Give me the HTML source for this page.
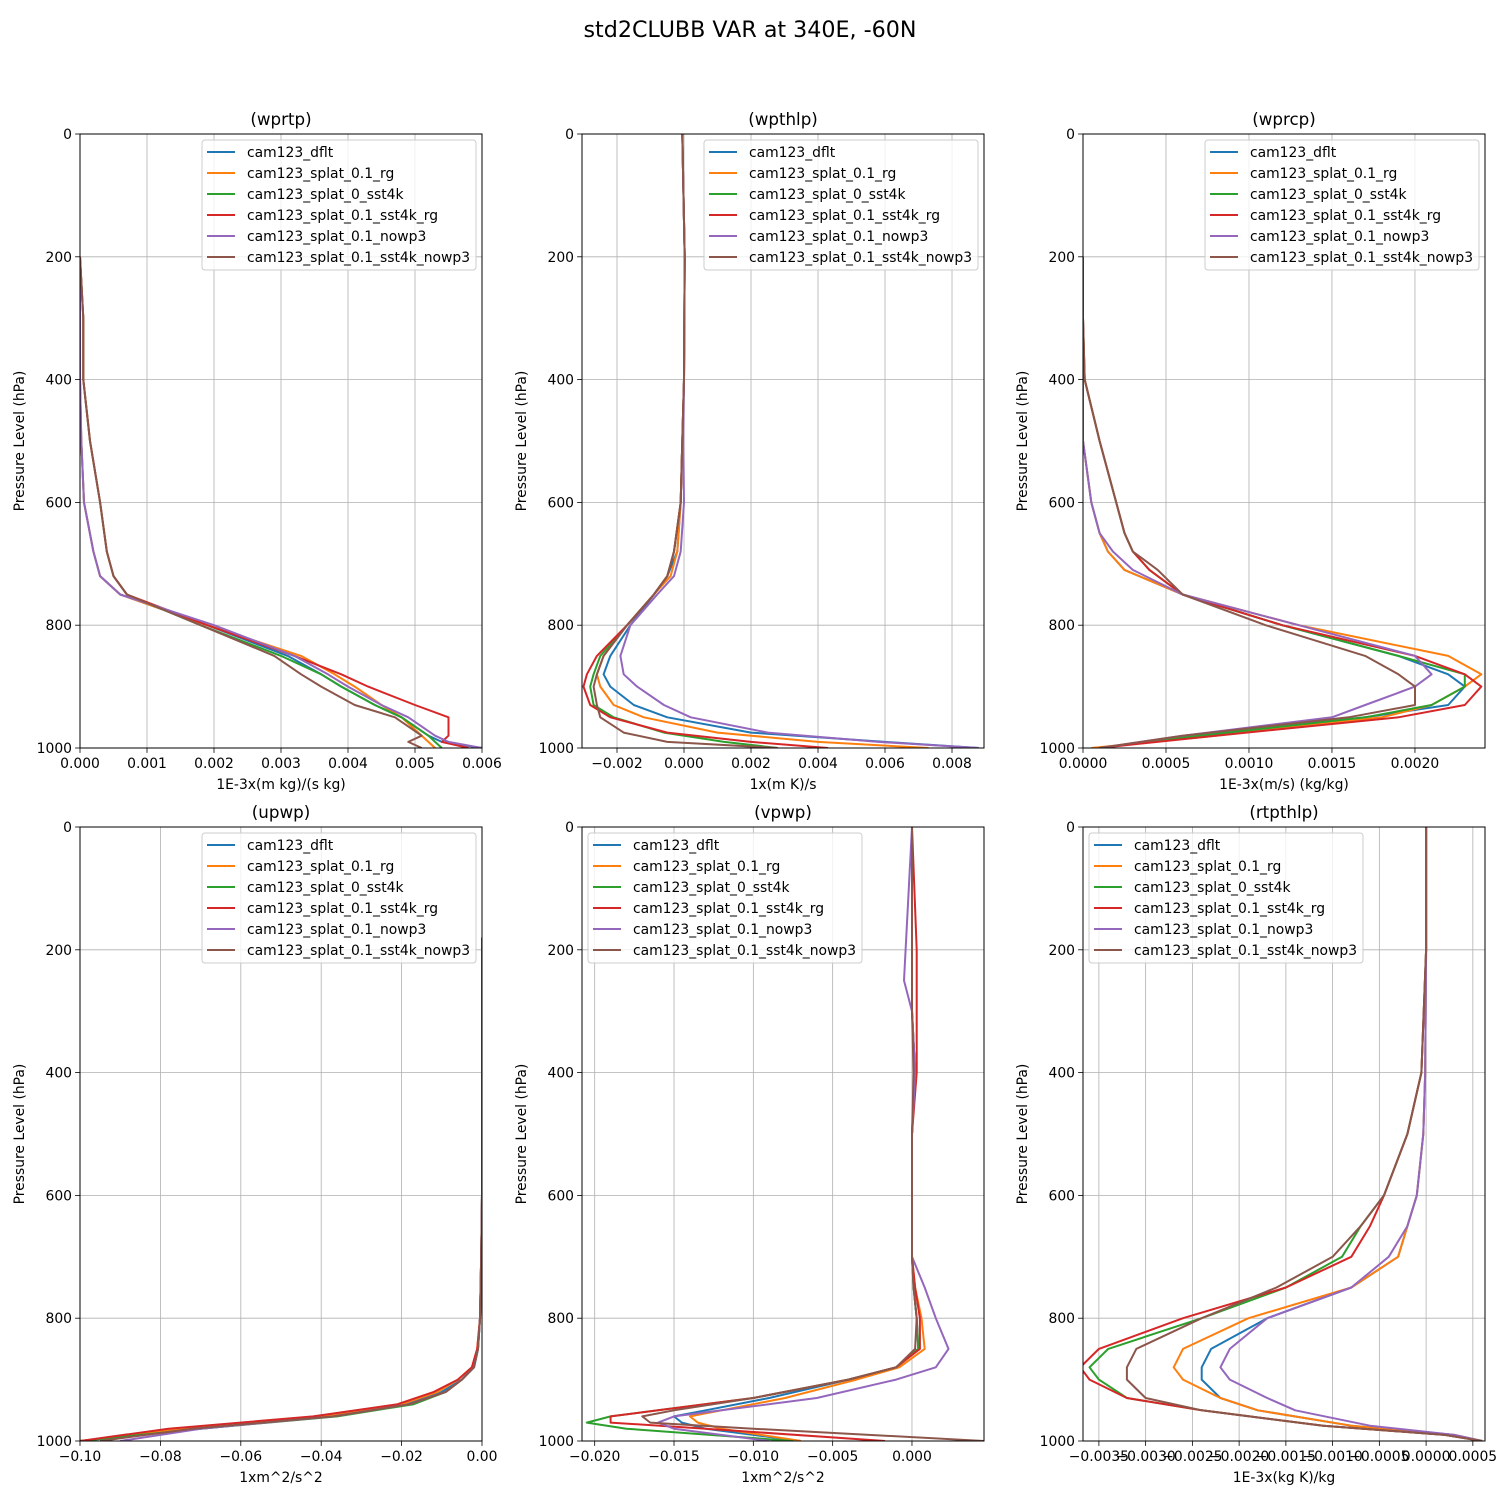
<!DOCTYPE html>
<html><head><meta charset="utf-8"><style>
html,body{margin:0;padding:0;background:#fff;}
svg{display:block;font-family:"DejaVu Sans","Liberation Sans",sans-serif;}
</style></head><body>
<svg id="fig" width="1500" height="1500" viewBox="0 0 1500 1500" xmlns="http://www.w3.org/2000/svg">
<rect width="1500" height="1500" fill="#fff"/>
<text x="750" y="37" font-size="22.2" text-anchor="middle">std2CLUBB VAR at 340E, -60N</text>
</svg>
<script>
const seriesNames = ["cam123_dflt","cam123_splat_0.1_rg","cam123_splat_0_sst4k","cam123_splat_0.1_sst4k_rg","cam123_splat_0.1_nowp3","cam123_splat_0.1_sst4k_nowp3"];
const colors = ["#1f77b4","#ff7f0e","#2ca02c","#d62728","#9467bd","#8c564b"];
const pTicks = [0,200,400,600,800,1000];

// Panel 1: wprtp
const lev1 = [200,300,400,500,600,680,720,750,800,850,880,900,930,950,980,990,1000];
const wprtp = [
 [0,0,0,0.00002,0.00006,0.0002,0.0003,0.0006,0.0019,0.0031,0.0036,0.0039,0.0044,0.0048,0.0052,0.0054,0.006],
 [0,0,0,0.00002,0.00006,0.0002,0.0003,0.0006,0.0019,0.0033,0.0038,0.0041,0.0045,0.0048,0.0051,0.0052,0.0053],
 [0,0.00005,0.00005,0.00015,0.0003,0.0004,0.0005,0.0007,0.0018,0.003,0.0036,0.0039,0.0044,0.0048,0.0052,0.0053,0.0054],
 [0,0.00005,0.00005,0.00015,0.0003,0.0004,0.0005,0.0007,0.0019,0.0032,0.0039,0.0043,0.005,0.0055,0.0055,0.0054,0.0058],
 [0,0,0,0.00002,0.00006,0.0002,0.0003,0.0006,0.002,0.0032,0.0037,0.004,0.0045,0.0049,0.0053,0.0055,0.006],
 [0,0.00005,0.00005,0.00015,0.0003,0.0004,0.0005,0.0007,0.0018,0.0029,0.0033,0.0036,0.0041,0.0047,0.0051,0.0049,0.0051]];
// Panel 2: wpthlp
const lev2 = [0,200,400,500,600,680,720,750,800,850,880,900,930,950,975,990,1000];
const wpthlp = [
 [-0.00005,0.00002,0,-0.00005,-0.0001,-0.0002,-0.0005,-0.0009,-0.0016,-0.0022,-0.0024,-0.0022,-0.0015,-0.0005,0.002,0.006,0.0088],
 [-0.00005,0.00002,0,-0.00005,-0.0001,-0.0002,-0.0004,-0.0009,-0.0017,-0.0024,-0.0026,-0.0025,-0.0021,-0.0012,0.001,0.004,0.0073],
 [-0.00005,0.00002,0,-0.00005,-0.0001,-0.0003,-0.0005,-0.0009,-0.0017,-0.0025,-0.0027,-0.0028,-0.0027,-0.0021,-0.0006,0.0012,0.0028],
 [-0.00005,0.00002,0,-0.00005,-0.0001,-0.0003,-0.0005,-0.0009,-0.0017,-0.0026,-0.0029,-0.003,-0.0028,-0.0022,-0.0005,0.002,0.0043],
 [-0.00005,0.00002,0,-0.00002,0,-0.0001,-0.0003,-0.0008,-0.0016,-0.0019,-0.0018,-0.0014,-0.0006,0.0002,0.0025,0.0058,0.0088],
 [-0.00005,0.00002,0,-0.00005,-0.0001,-0.0003,-0.0005,-0.0009,-0.0017,-0.0024,-0.0026,-0.0027,-0.0026,-0.0025,-0.0018,-0.0005,0.0028]];
// Panel 3: wprcp
const lev3 = [200,300,400,500,600,650,680,710,750,800,850,880,900,930,950,980,1000];
const wprcp = [
 [0,0,0,0,0.00005,0.0001,0.00015,0.00025,0.0006,0.0012,0.0019,0.0022,0.0023,0.0022,0.0017,0.0007,0.0001],
 [0,0,0,0,0.00005,0.0001,0.00015,0.00025,0.0006,0.0013,0.0022,0.0024,0.0023,0.0021,0.0018,0.0008,0.00005],
 [0,0,0.00001,0.0001,0.0002,0.00025,0.0003,0.0004,0.0006,0.0012,0.0019,0.0023,0.0023,0.0021,0.0017,0.0007,0.0001],
 [0,0,0.00001,0.0001,0.0002,0.00025,0.0003,0.0004,0.0006,0.0012,0.002,0.0023,0.0024,0.0023,0.0019,0.0008,0.0001],
 [0,0,0,0,0.00005,0.0001,0.00018,0.0003,0.0006,0.0013,0.002,0.0021,0.002,0.0017,0.0015,0.0006,0.0001],
 [0,0,0.00001,0.0001,0.0002,0.00025,0.0003,0.00045,0.0006,0.0011,0.0017,0.0019,0.002,0.002,0.0016,0.0006,0.0001]];
// Panel 4: upwp
const lev4 = [180,400,600,700,800,850,880,900,920,940,960,980,1000];
const upwp = [
 [0,0,0,-0.0002,-0.0005,-0.001,-0.002,-0.005,-0.01,-0.019,-0.038,-0.07,-0.1],
 [0,0,0,-0.0002,-0.0005,-0.0012,-0.0025,-0.006,-0.011,-0.02,-0.04,-0.075,-0.1],
 [0,0,0,-0.0002,-0.0005,-0.001,-0.002,-0.005,-0.009,-0.017,-0.036,-0.07,-0.1],
 [0,0,0,-0.0002,-0.0005,-0.0012,-0.0025,-0.006,-0.012,-0.021,-0.042,-0.078,-0.1],
 [0,0,0,-0.0002,-0.0005,-0.001,-0.002,-0.005,-0.009,-0.018,-0.037,-0.07,-0.09],
 [0,0,0,-0.0002,-0.0005,-0.001,-0.002,-0.005,-0.009,-0.018,-0.037,-0.072,-0.095]];
// Panel 5: vpwp
const lev5 = [0,200,250,300,400,500,600,700,750,800,850,880,900,930,950,960,970,980,1000];
const vpwp = [
 [0,0,0,0,0.0002,0,0,0,0.0001,0.0003,0.0004,-0.001,-0.004,-0.009,-0.013,-0.015,-0.0145,-0.013,-0.007],
 [0,0,0,0,0.0002,0,0,0,0.0002,0.0006,0.0008,-0.0008,-0.0035,-0.008,-0.012,-0.014,-0.0135,-0.012,-0.007],
 [0,0,0,0,0.0002,0,0,0,0.0001,0.0003,0.0004,-0.001,-0.004,-0.01,-0.016,-0.019,-0.0205,-0.018,-0.0075],
 [0,0.0003,0.0003,0.0003,0.0003,0,0,0,0.0002,0.0005,0.0005,-0.001,-0.004,-0.01,-0.016,-0.019,-0.019,-0.013,-0.0017],
 [0,-0.0004,-0.0005,0,0.0002,0,0,0,0.0008,0.0015,0.0023,0.0015,-0.001,-0.006,-0.012,-0.015,-0.016,-0.015,-0.009],
 [0,0,0,0,0.0001,0,0,0,0.0001,0.0003,0.0002,-0.001,-0.004,-0.01,-0.015,-0.017,-0.0165,-0.01,0.0046]];
// Panel 6: rtpthlp
const lev6 = [0,200,400,500,600,650,700,750,800,850,880,900,930,950,975,990,1000];
const rtpthlp = [
 [0,0,-0.00001,-0.00003,-0.0001,-0.0002,-0.0003,-0.0008,-0.0017,-0.0023,-0.0024,-0.0024,-0.0022,-0.0018,-0.0008,0.0003,0.0006],
 [0,0,-0.00001,-0.00003,-0.0001,-0.0002,-0.0003,-0.0008,-0.0019,-0.0026,-0.0027,-0.0026,-0.0022,-0.0018,-0.0008,0.0003,0.0006],
 [0,0,-0.00005,-0.0002,-0.00045,-0.0007,-0.0009,-0.0015,-0.0024,-0.0034,-0.0036,-0.0035,-0.0032,-0.0024,-0.0011,0.0002,0.0006],
 [0,0,-0.00005,-0.0002,-0.00045,-0.0006,-0.0008,-0.0015,-0.0026,-0.0035,-0.0037,-0.0036,-0.0032,-0.0024,-0.0011,0.0002,0.0006],
 [0,0,-0.00001,-0.00003,-0.0001,-0.0002,-0.0004,-0.0008,-0.0017,-0.0021,-0.0022,-0.0021,-0.0017,-0.0014,-0.0006,0.0003,0.0006],
 [0,0,-0.00005,-0.0002,-0.00045,-0.0007,-0.0010,-0.0016,-0.0024,-0.0031,-0.0032,-0.0032,-0.0030,-0.0024,-0.0011,0.0002,0.0006]];

const xt1=[0,0.001,0.002,0.003,0.004,0.005,0.006], xl1=["0.000","0.001","0.002","0.003","0.004","0.005","0.006"];
const xt2=[-0.002,0,0.002,0.004,0.006,0.008], xl2=["−0.002","0.000","0.002","0.004","0.006","0.008"];
const xt3=[0,0.0005,0.001,0.0015,0.002], xl3=["0.0000","0.0005","0.0010","0.0015","0.0020"];
const xt4=[-0.1,-0.08,-0.06,-0.04,-0.02,0], xl4=["−0.10","−0.08","−0.06","−0.04","−0.02","0.00"];
const xt5=[-0.02,-0.015,-0.01,-0.005,0], xl5=["−0.020","−0.015","−0.010","−0.005","0.000"];
const xt6=[-0.0035,-0.003,-0.0025,-0.002,-0.0015,-0.001,-0.0005,0,0.0005], xl6=["−0.0035","−0.0030","−0.0025","−0.0020","−0.0015","−0.0010","−0.0005","0.0000","0.0005"];

const panels = [
 {name:"wprtp",x0:80,y0:134,xmin:0,xmax:0.006,lev:lev1,data:wprtp,xt:xt1,xl:xl1,xlab:"1E-3x(m kg)/(s kg)",leg:"right"},
 {name:"wpthlp",x0:582,y0:134,xmin:-0.003045,xmax:0.008955,lev:lev2,data:wpthlp,xt:xt2,xl:xl2,xlab:"1x(m K)/s",leg:"right"},
 {name:"wprcp",x0:1083,y0:134,xmin:0,xmax:0.002422,lev:lev3,data:wprcp,xt:xt3,xl:xl3,xlab:"1E-3x(m/s) (kg/kg)",leg:"right"},
 {name:"upwp",x0:80,y0:827,xmin:-0.1,xmax:0,lev:lev4,data:upwp,xt:xt4,xl:xl4,xlab:"1xm^2/s^2",leg:"right"},
 {name:"vpwp",x0:582,y0:827,xmin:-0.0208,xmax:0.00454,lev:lev5,data:vpwp,xt:xt5,xl:xl5,xlab:"1xm^2/s^2",leg:"left"},
 {name:"rtpthlp",x0:1083,y0:827,xmin:-0.00367,xmax:0.00063,lev:lev6,data:rtpthlp,xt:xt6,xl:xl6,xlab:"1E-3x(kg K)/kg",leg:"left"}
];
const W=402,H=614,NS="http://www.w3.org/2000/svg",FS=13.9;
const fig=document.getElementById('fig');
function mk(tag,attrs,parent){const e=document.createElementNS(NS,tag);for(const k in attrs)e.setAttribute(k,attrs[k]);parent.appendChild(e);return e;}
panels.forEach(p=>{
 const g=mk('g',{},fig);
 
 
 const sx=v=>p.x0+(v-p.xmin)/(p.xmax-p.xmin)*W;
 const sy=v=>p.y0+v/1000*H;
 const t=mk('text',{x:p.x0+W/2,y:p.y0-9,'font-size':16.7,'text-anchor':'middle'},g);t.textContent='('+p.name+')';
 
 
 const clip=mk('clipPath',{id:'c'+p.name},g);mk('rect',{x:p.x0,y:p.y0,width:W,height:H},clip);
 p.xt.forEach((v,i)=>{const x=sx(v);
  mk('line',{x1:x,x2:x,y1:p.y0,y2:p.y0+H,stroke:'#b0b0b0','stroke-width':0.8},g);
  mk('line',{x1:x,x2:x,y1:p.y0+H,y2:p.y0+H+4.9,stroke:'#000','stroke-width':0.8},g);
  const l=mk('text',{x:x,y:p.y0+H+20,'font-size':FS,'text-anchor':'middle'},g);l.textContent=p.xl[i];
  
  
 });
 pTicks.forEach(v=>{const y=sy(v);
  mk('line',{x1:p.x0,x2:p.x0+W,y1:y,y2:y,stroke:'#b0b0b0','stroke-width':0.8},g);
  mk('line',{x1:p.x0-4.9,x2:p.x0,y1:y,y2:y,stroke:'#000','stroke-width':0.8},g);
  const l=mk('text',{x:p.x0-8,y:y+5,'font-size':FS,'text-anchor':'end'},g);l.textContent=v;
  
  
 });
 const yl=mk('text',{x:0,y:0,'font-size':FS,'text-anchor':'middle',transform:`translate(${p.x0-56},${p.y0+H/2}) rotate(-90)`},g);yl.textContent='Pressure Level (hPa)';
 
 
 const xlab=mk('text',{x:p.x0+W/2,y:p.y0+H+41,'font-size':FS,'text-anchor':'middle'},g);xlab.textContent=p.xlab;
 
 
 p.data.forEach((s,i)=>{
  const d=s.map((v,j)=>(j?'L':'M')+sx(v).toFixed(1)+','+sy(p.lev[j]).toFixed(1)).join(' ');
  const pa=mk('path',{d:d,fill:'none',stroke:colors[i],'stroke-width':2,'stroke-linejoin':'round','clip-path':`url(#c${p.name})`},g);
  
  
 });
 mk('rect',{x:p.x0,y:p.y0,width:W,height:H,fill:'none',stroke:'#000','stroke-width':1},g);
 const lx=p.leg==='right'?p.x0+W-280:p.x0+6, ly=p.y0+6;
 const lg=mk('g',{},g);
 
 
 mk('rect',{x:lx,y:ly,width:274,height:130,rx:3,fill:'rgba(255,255,255,0.8)',stroke:'#cccccc','stroke-width':1},lg);
 seriesNames.forEach((n,i)=>{const y=ly+12+i*21;
  mk('line',{x1:lx+5,x2:lx+33,y1:y,y2:y,stroke:colors[i],'stroke-width':2},lg);
  const tx=mk('text',{x:lx+45,y:y+5,'font-size':FS},lg);tx.textContent=n;
  
  
 });
});
</script>
</body></html>
